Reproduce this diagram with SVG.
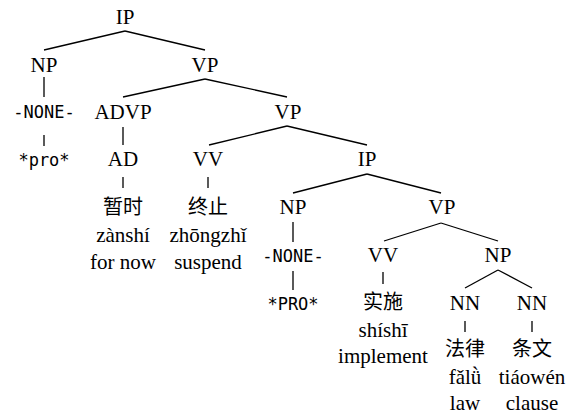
<svg xmlns="http://www.w3.org/2000/svg" width="570" height="415" viewBox="0 0 570 415">
<style>
.t{font-family:"Liberation Serif","Noto Sans CJK SC",serif;font-size:21px;text-anchor:middle;fill:#000}
.m{font-family:"DejaVu Sans Mono","Liberation Mono",monospace;font-size:17px;text-anchor:middle;fill:#000}
.c{font-family:"Liberation Serif","Noto Sans CJK SC",serif;font-size:20px;text-anchor:middle;fill:#000}
.e line{stroke:#000;stroke-width:1.3;fill:none}
</style>
<rect width="570" height="415" fill="#fff"/>
<g class="e" id="connectors">
<line x1="125" y1="31" x2="44" y2="50"/>
<line x1="125" y1="31" x2="205" y2="50"/>
<line x1="44" y1="77" x2="44" y2="97"/>
<line x1="205" y1="79" x2="123" y2="97"/>
<line x1="205" y1="79" x2="287" y2="97"/>
<line x1="44" y1="135" x2="44" y2="146"/>
<line x1="123" y1="127" x2="123" y2="145"/>
<line x1="287" y1="126" x2="209" y2="145"/>
<line x1="287" y1="126" x2="367" y2="145"/>
<line x1="123" y1="177" x2="123" y2="188"/>
<line x1="208" y1="177" x2="208" y2="188"/>
<line x1="367" y1="174" x2="293" y2="193"/>
<line x1="367" y1="174" x2="441" y2="193"/>
<line x1="293" y1="222" x2="293" y2="242"/>
<line x1="441" y1="223" x2="384" y2="241"/>
<line x1="441" y1="223" x2="498" y2="241"/>
<line x1="293" y1="271" x2="293" y2="290"/>
<line x1="383" y1="272" x2="383" y2="284"/>
<line x1="498" y1="270" x2="465" y2="288"/>
<line x1="498" y1="270" x2="532" y2="288"/>
<line x1="465" y1="321" x2="465" y2="332"/>
<line x1="532" y1="321" x2="532" y2="332"/>
</g>
<g id="n-ip1"><text class="t" x="125" y="24">IP</text></g>
<g id="n-np1"><text class="t" x="44" y="72">NP</text></g>
<g id="n-vp1"><text class="t" x="205" y="72">VP</text></g>
<g id="n-none1"><text class="m" x="44" y="118">-NONE-</text></g>
<g id="n-advp"><text class="t" x="123" y="119">ADVP</text></g>
<g id="n-vp2"><text class="t" x="288" y="119">VP</text></g>
<g id="n-pro1"><text class="m" x="44" y="166">*pro*</text></g>
<g id="n-ad"><text class="t" x="123" y="166">AD</text></g>
<g id="n-vv1"><text class="t" x="208" y="166">VV</text></g>
<g id="n-ip2"><text class="t" x="367" y="166">IP</text></g>
<g id="n-w1"><text class="c" x="123" y="214">暂时</text><text class="t" x="123" y="242">zànshí</text><text class="t" x="123" y="269">for now</text></g>
<g id="n-w2"><text class="c" x="208" y="214">终止</text><text class="t" x="208" y="242">zhōngzhǐ</text><text class="t" x="208" y="269">suspend</text></g>
<g id="n-np2"><text class="t" x="293" y="214">NP</text></g>
<g id="n-vp3"><text class="t" x="442" y="214">VP</text></g>
<g id="n-none2"><text class="m" x="293" y="262">-NONE-</text></g>
<g id="n-vv2"><text class="t" x="383" y="262">VV</text></g>
<g id="n-np3"><text class="t" x="498" y="262">NP</text></g>
<g id="n-pro2"><text class="m" x="293" y="310">*PRO*</text></g>
<g id="n-w3"><text class="c" x="383" y="309">实施</text><text class="t" x="383" y="337">shíshī</text><text class="t" x="383" y="363">implement</text></g>
<g id="n-nn1"><text class="t" x="465" y="310">NN</text></g>
<g id="n-nn2"><text class="t" x="532" y="310">NN</text></g>
<g id="n-w4"><text class="c" x="465" y="356">法律</text><text class="t" x="465" y="384">fǎlǜ</text><text class="t" x="465" y="410">law</text></g>
<g id="n-w5"><text class="c" x="532" y="356">条文</text><text class="t" x="532" y="384">tiáowén</text><text class="t" x="532" y="410">clause</text></g>
</svg>
